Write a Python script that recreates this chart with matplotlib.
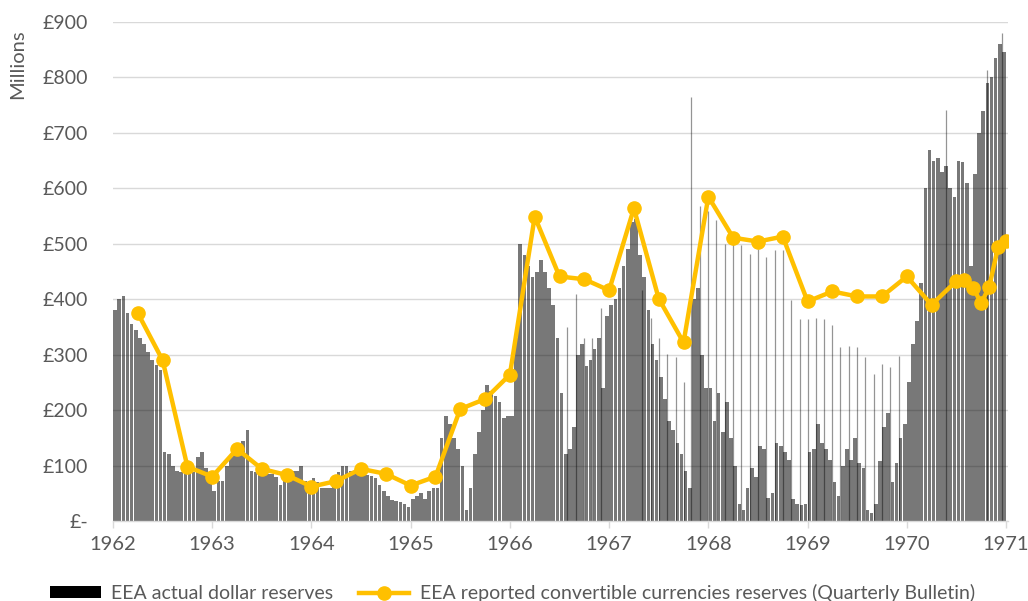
import numpy as np
import matplotlib
matplotlib.use("Agg")
import matplotlib.pyplot as plt
from matplotlib.patches import Patch
from matplotlib.lines import Line2D

plt.rcParams['font.family'] = ['Lato', 'DejaVu Sans']

# ---- data: EEA actual dollar reserves, half-monthly readings (GBP millions) ----
res_1962 = [380, 400, 405, 375, 355, 345, 330, 320, 305, 290, 282, 272,
            125, 120, 100, 90, 88, 88, 87, 88, 115, 125, 95, 72]
res_1963 = [55, 72, 72, 100, 115, 120, 120, 145, 165, 90, 88, 88,
            88, 85, 85, 80, 65, 88, 90, 90, 90, 100, 72, 72]
res_1964 = [78, 70, 60, 60, 60, 62, 88, 100, 100, 90, 88, 87,
            85, 83, 82, 78, 65, 55, 45, 38, 36, 35, 30, 25]
res_1965 = [40, 45, 50, 40, 55, 60, 60, 150, 190, 175, 150, 130,
            100, 20, 60, 120, 160, 200, 245, 235, 225, 215, 185, 190]
res_1966 = [190, 330, 500, 480, 460, 440, 450, 470, 450, 420, 390, 330,
            230, 120, 130, 170, 300, 320, 280, 290, 310, 330, 240, 370]
res_1967 = [390, 400, 420, 460, 490, 540, 545, 480, 440, 380, 320, 290,
            260, 220, 180, 165, 140, 120, 90, 60, 400, 420, 300, 240]
res_1968 = [240, 180, 230, 160, 215, 150, 100, 30, 20, 60, 95, 80,
            135, 130, 42, 50, 140, 135, 125, 110, 40, 30, 28, 30]
res_1969 = [125, 130, 175, 140, 130, 110, 70, 45, 100, 130, 110, 150,
            105, 95, 20, 15, 30, 108, 170, 195, 70, 105, 150, 175]
res_1970 = [250, 320, 360, 430, 600, 670, 650, 655, 630, 640, 600, 585,
            650, 648, 610, 460, 625, 700, 740, 790, 800, 835, 860, 845]

# isolated single-day spikes (decimal year, value)
spike_dates = [1966.58, 1966.67, 1966.75, 1966.83, 1966.92,
               1967.33, 1967.42, 1967.50, 1967.58, 1967.67, 1967.75,
               1967.83, 1967.92, 1968.00, 1968.08, 1968.17, 1968.25, 1968.33,
               1968.42, 1968.50, 1968.58, 1968.67, 1968.75, 1968.83, 1968.92,
               1969.00, 1969.08, 1969.17, 1969.25, 1969.33, 1969.42, 1969.50,
               1969.58, 1969.67, 1969.75, 1969.83, 1969.92,
               1970.40, 1970.81, 1970.96]
spike_values = [349, 410, 330, 330, 385,
                416, 367, 330, 301, 295, 250,
                765, 569, 560, 542, 500, 518, 497,
                482, 491, 476, 488, 488, 398, 365,
                365, 367, 365, 353, 313, 315, 313,
                295, 265, 283, 277, 298,
                741, 813, 880]

# ---- data: EEA reported convertible currencies reserves (Quarterly Bulletin) ----
qb_dates = [1962.25, 1962.50, 1962.75, 1963.00, 1963.25, 1963.50, 1963.75, 1964.00,
            1964.25, 1964.50, 1964.75, 1965.00, 1965.25, 1965.50, 1965.75, 1966.00,
            1966.25, 1966.50, 1966.75, 1967.00, 1967.25, 1967.50, 1967.75, 1968.00,
            1968.25, 1968.50, 1968.75, 1969.00, 1969.25, 1969.50, 1969.75, 1970.00,
            1970.25, 1970.50, 1970.58, 1970.67, 1970.75, 1970.83, 1970.92, 1971.00]
qb_values = [375, 290, 98, 80, 130, 94, 83, 62,
             72, 94, 85, 64, 80, 202, 220, 264,
             549, 441, 436, 416, 564, 401, 322, 585,
             511, 504, 513, 396, 414, 405, 405, 441,
             390, 433, 435, 420, 393, 422, 494, 505]

year_ticks = list(range(1962, 1972))
y_ticks = list(range(0, 1000, 100))
y_labels = ['£-'] + [f'£{v}' for v in y_ticks[1:]]

legend_labels = ['EEA actual dollar reserves',
                 'EEA reported convertible currencies reserves (Quarterly Bulletin)']

# ---- build ----
reserves = np.array(res_1962 + res_1963 + res_1964 + res_1965 + res_1966 +
                    res_1967 + res_1968 + res_1969 + res_1970, dtype=float)
step = 1 / 24
res_x = 1962 + (np.arange(len(reserves)) + 0.5) * step

W, H = 1028, 601
fig = plt.figure(figsize=(W / 100, H / 100), dpi=100)
ax = fig.add_axes([113 / W, 1 - 521 / H, (1008 - 113) / W, (521 - 22) / H])

text_col = '#595959'
grid_col = '#d9d9d9'
gold = '#FFC000'

ax.set_axisbelow(True)
ax.yaxis.grid(True, color=grid_col, linewidth=1.0)

ax.bar(res_x, reserves, width=step * 0.88, color='black', alpha=0.53,
       linewidth=0, zorder=2)
ax.vlines(spike_dates, 0, spike_values, color='black', alpha=0.42,
          linewidth=0.9, zorder=2)

ax.plot(qb_dates, qb_values, color=gold, linewidth=3.2, marker='o',
        markersize=9.5, zorder=4)

ax.set_xlim(1962, 1971.02)
ax.set_ylim(0, 900)
ax.set_xticks(year_ticks)
ax.set_xticklabels([str(y) for y in year_ticks])
ax.set_yticks(y_ticks)
ax.set_yticklabels(y_labels)

for s in ['top', 'right', 'left']:
    ax.spines[s].set_visible(False)
ax.spines['bottom'].set_color(grid_col)
ax.spines['bottom'].set_linewidth(1.0)
ax.spines['bottom'].set_zorder(5)

ax.tick_params(axis='x', length=5, width=1, color=grid_col, labelsize=14.5,
               labelcolor=text_col, pad=6)
ax.tick_params(axis='y', length=0, labelsize=14, labelcolor=text_col, pad=18)

fig.text(18 / W, 1 - 29 / H, 'Millions', rotation=90, ha='center', va='top',
         fontsize=14.5, color=text_col)

handles = [Patch(facecolor='black', edgecolor='none'),
           Line2D([0], [0], color=gold, linewidth=3.2, marker='o', markersize=9.5)]
leg = fig.legend(handles, legend_labels, loc='center left',
                 bbox_to_anchor=(50 / W, 1 - 593 / H), ncol=2, frameon=False,
                 fontsize=14, handlelength=2.6, handletextpad=0.55,
                 columnspacing=1.3, borderpad=0, borderaxespad=0,
                 handleheight=0.55)
for t in leg.get_texts():
    t.set_color(text_col)

fig.savefig('out.png', dpi=100)
